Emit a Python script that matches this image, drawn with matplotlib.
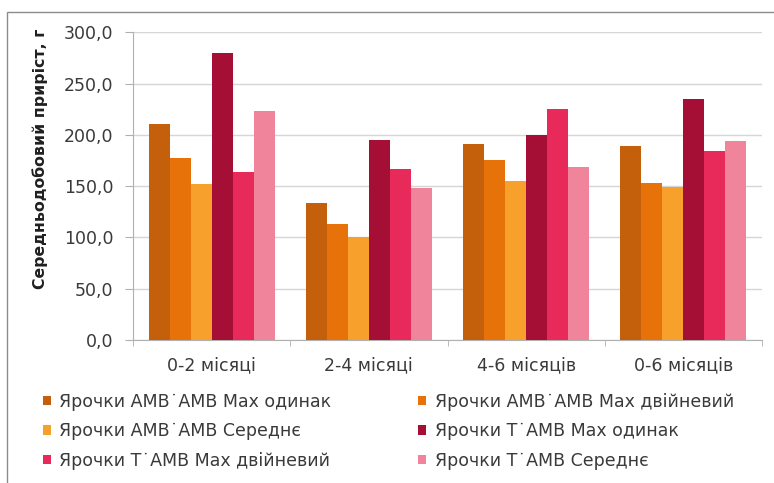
import numpy as np
import matplotlib
matplotlib.use("Agg")
import matplotlib.pyplot as plt
from matplotlib.patches import Rectangle
from matplotlib.ticker import FixedLocator, FuncFormatter

plt.rcParams['font.family'] = ['DejaVu Sans']

categories = ["0-2 місяці", "2-4 місяці", "4-6 місяців", "0-6 місяців"]
series_names = [
    "Ярочки АМВ˙АМВ Max одинак",
    "Ярочки АМВ˙АМВ Max двійневий",
    "Ярочки АМВ˙АМВ Середнє",
    "Ярочки Т˙АМВ Max одинак",
    "Ярочки Т˙АМВ Max двійневий",
    "Ярочки Т˙АМВ Середнє",
]
amb_max_single = [210.5, 134.0, 191.0, 189.0]
amb_max_twin = [177.5, 113.0, 175.5, 152.8]
amb_mean = [152.0, 100.5, 155.3, 149.0]
t_max_single = [279.5, 195.0, 200.2, 235.3]
t_max_twin = [163.8, 166.4, 225.5, 184.6]
t_mean = [223.0, 148.0, 169.0, 194.3]
series_values = [amb_max_single, amb_max_twin, amb_mean, t_max_single, t_max_twin, t_mean]
y_ticks = [0, 50, 100, 150, 200, 250, 300]

colors = ["#C4600C", "#E8720A", "#F7A02C", "#A50E35", "#E82A5A", "#F0849A"]
text_col = "#3A3A3A"

fig = plt.figure(figsize=(7.74, 4.83), dpi=100)
# chart area frame
fig.patches.append(Rectangle((7 / 774, -0.2), 1.2, 1.2 - 12 / 483,
                             transform=fig.transFigure, fill=False,
                             edgecolor="#8C8C8C", linewidth=1.0))

ax = fig.add_axes([133 / 774, 1 - 340 / 483, (762 - 133) / 774, (340 - 32.3) / 483])

n = len(series_values)
bar_w = 1.0 / (n + 1.5)
x = np.arange(len(categories))
handles = []
for i, (vals, col, name) in enumerate(zip(series_values, colors, series_names)):
    offs = (i - (n - 1) / 2) * bar_w
    h = ax.bar(x + offs, vals, width=bar_w, color=col, label=name, zorder=3, linewidth=0)
    handles.append(h)

ax.set_xlim(-0.5, len(categories) - 0.5)
ax.set_ylim(0, 300)
ax.yaxis.set_major_locator(FixedLocator(y_ticks))
ax.yaxis.set_major_formatter(FuncFormatter(lambda v, p: f"{v:.1f}".replace(".", ",")))
ax.grid(axis="y", color="#D6D6D6", linewidth=1.0, zorder=0)

ax.set_xticks(x)
ax.set_xticklabels(categories)
ax.set_xticks(np.arange(len(categories) + 1) - 0.5, minor=True)
ax.tick_params(axis="x", which="major", length=0, pad=12, labelsize=12.5, labelcolor=text_col)
ax.tick_params(axis="x", which="minor", length=4, color="#B0B0B0", direction="out")
ax.tick_params(axis="y", length=6, color="#B0B0B0", labelsize=12.5, labelcolor=text_col, pad=8)

for side in ["top", "right"]:
    ax.spines[side].set_visible(False)
ax.spines["left"].set_color("#B0B0B0")
ax.spines["bottom"].set_color("#B0B0B0")

ax.set_ylabel("Середньодобовий приріст, г", fontsize=11.3, fontweight="bold", color="#202020")
ax.yaxis.set_label_coords(48 / 774, 1 - 158.5 / 483, transform=fig.transFigure)

# legend laid out row by row, two columns
order = [0, 2, 4, 1, 3, 5]
leg = fig.legend([handles[i] for i in order], [series_names[i] for i in order],
                 loc="upper left", bbox_to_anchor=(36 / 774, 1 - 386 / 483), ncol=2,
                 frameon=False, fontsize=12.5, handlelength=0.45, handleheight=0.45,
                 handletextpad=0.5, columnspacing=5.0, labelspacing=0.65,
                 borderaxespad=0)
for t in leg.get_texts():
    t.set_color(text_col)

fig.savefig("out.png", dpi=100)
